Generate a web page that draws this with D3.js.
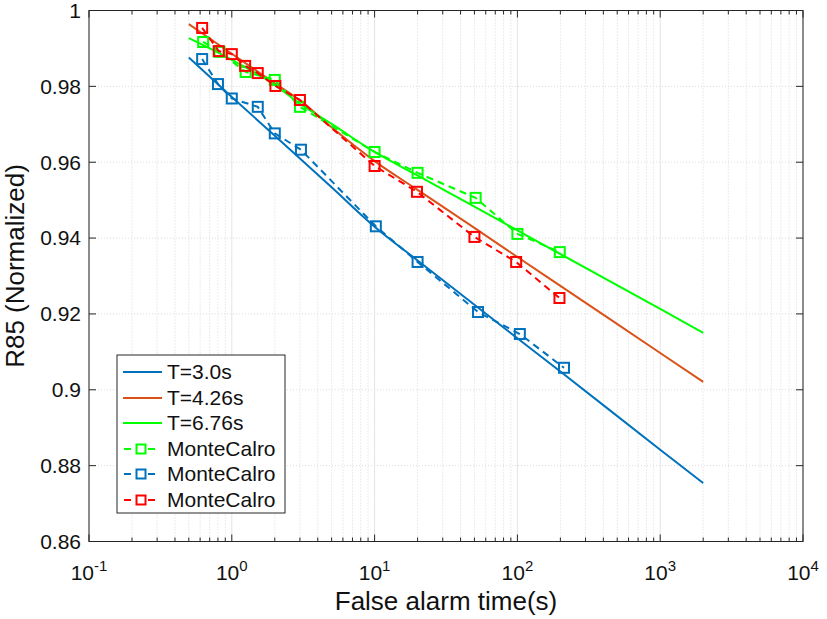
<!DOCTYPE html>
<html>
<head>
<meta charset="utf-8">
<script src="https://cdn.jsdelivr.net/npm/d3@7"></script>
<style>
  html, body { margin: 0; padding: 0; background: #fff; }
  svg { display: block; font-family: "Liberation Sans", Arial, sans-serif; }
</style>
</head>
<body>
<svg id="chart" width="827" height="619"></svg>
<script>
// ---------- data ----------
const xTickExps = [-1, 0, 1, 2, 3, 4];
const yTicks = [0.86, 0.88, 0.9, 0.92, 0.94, 0.96, 0.98, 1];
const yTickLabels = ["0.86", "0.88", "0.9", "0.92", "0.94", "0.96", "0.98", "1"];

const lineX = [0.5, 1, 2, 3, 5, 10, 20, 50, 100, 200, 1000, 2000];
const lineT30  = [0.9876, 0.9772, 0.9670, 0.9610, 0.9534, 0.9430, 0.9341, 0.9224, 0.9136, 0.9048, 0.8842, 0.8754];
const lineT426 = [0.9964, 0.9886, 0.9808, 0.9763, 0.9692, 0.9603, 0.9527, 0.9427, 0.9350, 0.9274, 0.9097, 0.9021];
const lineT676 = [0.9927, 0.9870, 0.9804, 0.9754, 0.9701, 0.9627, 0.9565, 0.9483, 0.9420, 0.9358, 0.9213, 0.9150];

const mcGreenX = [0.63, 0.82, 1.25, 2, 3, 10, 20, 51, 100, 198];
const mcGreenY = [0.9917, 0.9891, 0.9838, 0.9817, 0.9746, 0.9627, 0.9572, 0.9506, 0.9411, 0.9363];
const mcBlueX  = [0.62, 0.8, 1.0, 1.52, 2, 3.05, 10.2, 20, 53, 104, 212];
const mcBlueY  = [0.9872, 0.9806, 0.9768, 0.9746, 0.9676, 0.9633, 0.9431, 0.9337, 0.9205, 0.9147, 0.9058];
const mcRedX   = [0.62, 0.81, 1.0, 1.24, 1.52, 2.02, 3, 10, 19.8, 50, 98, 197];
const mcRedY   = [0.9954, 0.9893, 0.9885, 0.9854, 0.9835, 0.9801, 0.9764, 0.9590, 0.9522, 0.9403, 0.9337, 0.9242];

const legendLabels = ["T=3.0s", "T=4.26s", "T=6.76s", "MonteCalro", "MonteCalro", "MonteCalro"];

// ---------- styles ----------
const cBlue = "#0072BD", cOrange = "#D95319", cGreen = "#00FF00", cRed = "#FF0000";
const axisColor = "#262626";

const svg = d3.select("#chart");
const L = 89, R = 803, T = 10.5, B = 541.5;

const x = d3.scaleLog().domain([0.1, 10000]).range([L, R]);
const y = d3.scaleLinear().domain([0.86, 1]).range([B, T]);

// ---------- grid ----------
const grid = svg.append("g");
const minor = [];
for (let e = -1; e < 4; e++) for (let k = 2; k <= 9; k++) minor.push(k * Math.pow(10, e));
grid.selectAll("line.vminor").data(minor).enter().append("line")
  .attr("x1", d => x(d)).attr("x2", d => x(d)).attr("y1", T).attr("y2", B)
  .attr("stroke", "#cfcfcf").attr("stroke-width", 0.8).attr("stroke-dasharray", "1,2");
const majors = xTickExps.map(e => Math.pow(10, e));
grid.selectAll("line.vmajor").data(majors).enter().append("line")
  .attr("x1", d => x(d)).attr("x2", d => x(d)).attr("y1", T).attr("y2", B)
  .attr("stroke", "#e4e4e4").attr("stroke-width", 1);
grid.selectAll("line.h").data(yTicks).enter().append("line")
  .attr("x1", L).attr("x2", R).attr("y1", d => y(d)).attr("y2", d => y(d))
  .attr("stroke", "#dcdcdc").attr("stroke-width", 1).attr("stroke-dasharray", "1,2");

// ---------- curves ----------
const lineGen = d3.line().x(d => x(d[0])).y(d => y(d[1])).curve(d3.curveMonotoneX);
const plotG = svg.append("g");
[[lineT30, cBlue], [lineT426, cOrange], [lineT676, cGreen]].forEach(([vals, col]) => {
  plotG.append("path").datum(lineX.map((v, i) => [v, vals[i]]))
    .attr("d", lineGen).attr("fill", "none").attr("stroke", col).attr("stroke-width", 2);
});

const segGen = d3.line().x(d => x(d[0])).y(d => y(d[1]));
function mcSeries(xs, ys, col) {
  const pts = xs.map((v, i) => [v, ys[i]]);
  plotG.append("path").datum(pts).attr("d", segGen).attr("fill", "none")
    .attr("stroke", col).attr("stroke-width", 2).attr("stroke-dasharray", "7,5");
  plotG.selectAll(null).data(pts).enter().append("rect")
    .attr("x", d => x(d[0]) - 5).attr("y", d => y(d[1]) - 5)
    .attr("width", 10).attr("height", 10)
    .attr("fill", "none").attr("stroke", col).attr("stroke-width", 2);
}
mcSeries(mcGreenX, mcGreenY, cGreen);
mcSeries(mcBlueX, mcBlueY, cBlue);
mcSeries(mcRedX, mcRedY, cRed);

// ---------- axes box & ticks ----------
const ax = svg.append("g");
ax.append("rect").attr("x", L).attr("y", T).attr("width", R - L).attr("height", B - T)
  .attr("fill", "none").attr("stroke", axisColor).attr("stroke-width", 1);
majors.forEach(d => {
  ax.append("line").attr("x1", x(d)).attr("x2", x(d)).attr("y1", B).attr("y2", B - 7).attr("stroke", axisColor);
  ax.append("line").attr("x1", x(d)).attr("x2", x(d)).attr("y1", T).attr("y2", T + 7).attr("stroke", axisColor);
});
minor.forEach(d => {
  ax.append("line").attr("x1", x(d)).attr("x2", x(d)).attr("y1", B).attr("y2", B - 4).attr("stroke", axisColor);
  ax.append("line").attr("x1", x(d)).attr("x2", x(d)).attr("y1", T).attr("y2", T + 4).attr("stroke", axisColor);
});
yTicks.forEach(d => {
  ax.append("line").attr("x1", L).attr("x2", L + 7).attr("y1", y(d)).attr("y2", y(d)).attr("stroke", axisColor);
  ax.append("line").attr("x1", R).attr("x2", R - 7).attr("y1", y(d)).attr("y2", y(d)).attr("stroke", axisColor);
});

const fs = 21;
yTicks.forEach((d, i) => {
  ax.append("text").attr("x", L - 8).attr("y", y(d)).attr("dy", "0.35em")
    .attr("text-anchor", "end").attr("font-size", fs).attr("fill", "#111").text(yTickLabels[i]);
});
xTickExps.forEach(e => {
  const t = ax.append("text").attr("x", x(Math.pow(10, e))).attr("y", 580)
    .attr("text-anchor", "middle").attr("font-size", fs).attr("fill", "#111");
  t.append("tspan").text("10");
  t.append("tspan").attr("font-size", 15).attr("dy", "-9").text(String(e));
});

// axis labels
svg.append("text").attr("x", (L + R) / 2).attr("y", 610).attr("text-anchor", "middle")
  .attr("font-size", 26).attr("fill", "#111").text("False alarm time(s)");
svg.append("text").attr("transform", `translate(24,266) rotate(-90)`)
  .attr("text-anchor", "middle").attr("font-size", 26).attr("fill", "#111").text("R85 (Normalized)");

// ---------- legend ----------
const lg = svg.append("g");
const lx = 117, ly = 355, lw = 168, lh = 158;
lg.append("rect").attr("x", lx).attr("y", ly).attr("width", lw).attr("height", lh)
  .attr("fill", "#fff").attr("stroke", axisColor).attr("stroke-width", 1);
const legCols = [cBlue, cOrange, cGreen, cGreen, cBlue, cRed];
const rowY = [372, 398, 423, 449, 474, 500];
legendLabels.forEach((lab, i) => {
  const yy = rowY[i];
  if (i < 3) {
    lg.append("line").attr("x1", 123).attr("x2", 162).attr("y1", yy).attr("y2", yy)
      .attr("stroke", legCols[i]).attr("stroke-width", 2);
  } else {
    lg.append("line").attr("x1", 124).attr("x2", 160).attr("y1", yy).attr("y2", yy)
      .attr("stroke", legCols[i]).attr("stroke-width", 2).attr("stroke-dasharray", "7,5");
    lg.append("rect").attr("x", 141 - 4.5).attr("y", yy - 4.5).attr("width", 9).attr("height", 9)
      .attr("fill", "#fff").attr("stroke", legCols[i]).attr("stroke-width", 2);
  }
  lg.append("text").attr("x", 167).attr("y", yy).attr("dy", "0.35em")
    .attr("font-size", fs).attr("fill", "#111").text(lab);
});
</script>
</body>
</html>
